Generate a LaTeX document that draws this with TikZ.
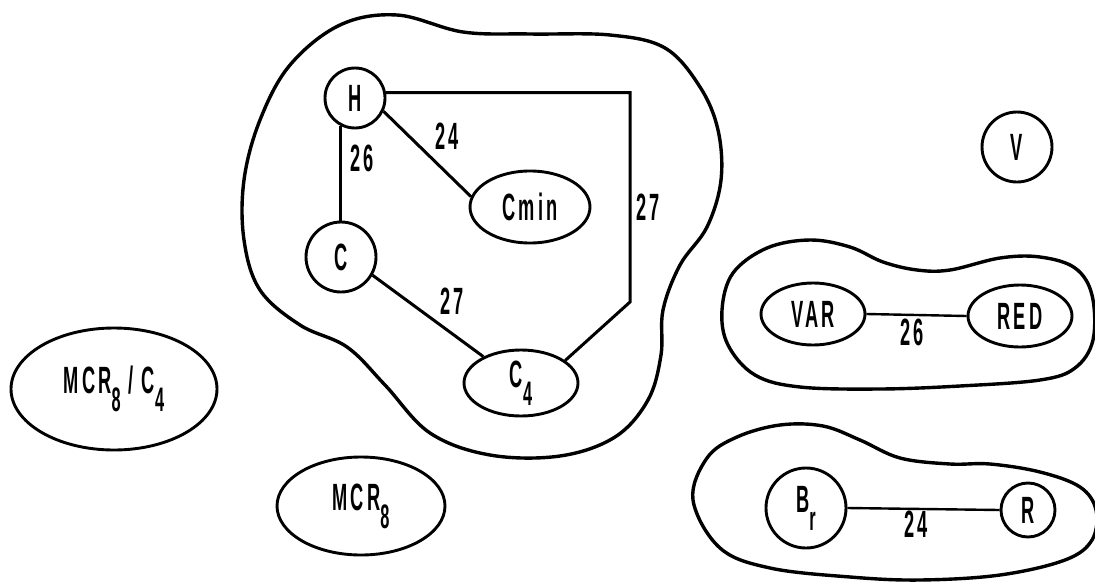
\documentclass[tikz,border=0pt]{standalone}
\usepackage{fontspec}
\setmainfont{Liberation Sans}[FakeStretch=0.48,LetterSpace=8]
\usetikzlibrary{shapes.geometric}
% lowered index, set nearly as large as the main letters
\newcommand\lowr[1]{\raisebox{-18pt}{\fontsize{34}{34}\selectfont #1}}
\begin{document}
\begin{tikzpicture}[x=1pt,y=-1pt,
  txt/.style={font=\fontsize{38}{40}\selectfont\bfseries},
  lbl/.style={txt, inner sep=0pt},
  vtx/.style={txt, draw, circle, line width=2.9pt, inner sep=0pt, minimum size=#1},
  oval/.style 2 args={txt, draw, ellipse, line width=2.9pt, inner sep=0pt,
                      minimum width=#1, minimum height=#2},
  link/.style={line width=3pt},
  thinlink/.style={line width=2.4pt},
  region/.style={line width=3.4pt, line join=round}]
\useasboundingbox (0,0) rectangle (1095,581);

% cluster outlines
\draw[region] plot[smooth cycle, tension=0.6] coordinates {
  (397,15) (463,32) (530,34) (610,35) (665,48) (700,87) (718,130) (721,180)
  (707,227) (680,265) (663,310) (661,355) (648,400) (615,437) (560,456)
  (490,455) (430,433) (385,385) (347,347) (300,325) (260,290) (244,240)
  (244,180) (260,120) (290,65) (340,25)};
\draw[region] plot[smooth cycle, tension=0.6] coordinates {
  (722,310) (733,273) (767,248) (810,240) (850,247) (883,262) (917,270)
  (950,270) (1000,258) (1040,257) (1075,268) (1092,295) (1093,340)
  (1075,368) (1040,380) (960,386) (880,389) (800,387) (755,375) (728,345)};
\draw[region] plot[smooth cycle, tension=0.6] coordinates {
  (693,500) (707,458) (737,437) (780,425) (823,426) (860,440) (900,458)
  (950,464) (990,464) (1040,472) (1080,487) (1096,510) (1092,540)
  (1065,560) (1000,575) (920,580) (850,577) (770,568) (720,548)};

% vertices
\node[vtx=60] (H) at (355,98) {H};
\node[vtx=70] (C) at (341,257) {C};
\node[oval={120}{72}] (Cmin) at (530,207) {Cmin};
\node[oval={114}{66}] (C4) at (521,383) {C\lowr{4}};
\node[vtx=70] (V) at (1017,147) {V};
\node[oval={104}{62}] (VAR) at (813,314) {VAR};
\node[oval={104}{62}] (RED) at (1020,316) {RED};
\node[vtx=80] (Br) at (806,508) {B\lowr{r}};
\node[vtx=54] (R) at (1028,510) {R};
\node[oval={206}{122}] (MC) at (114,389) {MCR\lowr{8} / C\lowr{4}};
\node[oval={168}{98}] (M8) at (361,506) {MCR\lowr{8}};

% edges
\coordinate (bend) at (630,302);
\draw[link] (H.242) -- (H.242 |- C.north);
\draw[link] (H.-25) -- (Cmin.170);
\draw[link] (H.10) -| (bend) -- (C4.27);
\draw[link] (C.-30) -- (C4.145);
\draw[thinlink] (VAR.east) -- (RED.west);
\draw[thinlink] (Br.east) -- (R.west);

% edge weights
\node[lbl] (w1) at (362,158) {26};
\node[lbl] (w2) at (447,136) {24};
\node[lbl] (w3) at (648,207) {27};
\node[lbl] (w4) at (452,301) {27};
\node[lbl] (w5) at (912,332) {26};
\node[lbl] (w6) at (916,524) {24};
\end{tikzpicture}
\end{document}
